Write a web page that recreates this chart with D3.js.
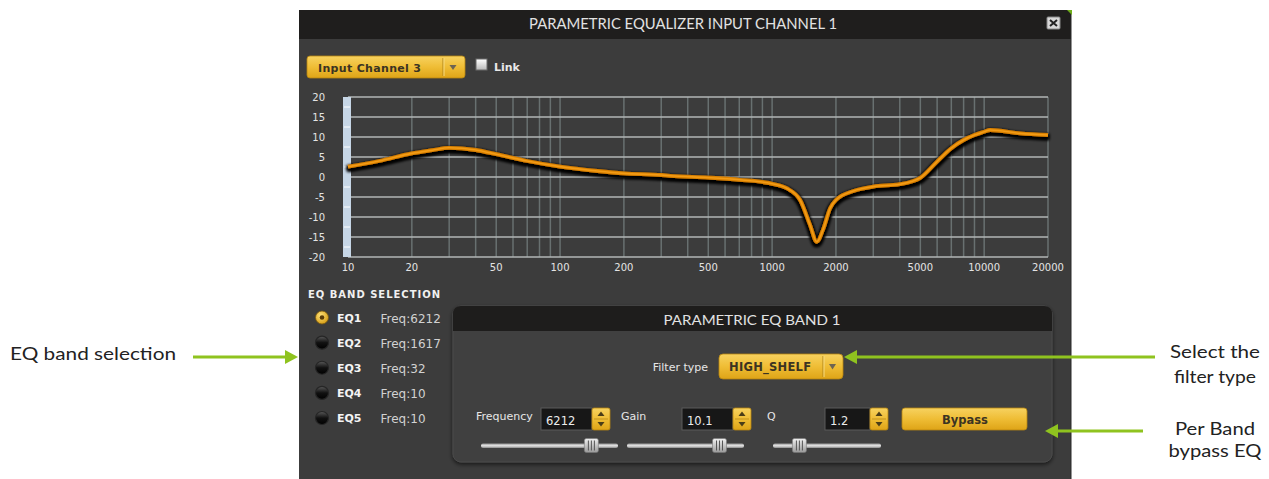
<!DOCTYPE html>
<html><head><meta charset="utf-8">
<script src="https://cdn.jsdelivr.net/npm/d3@7"></script>
<style>html,body{margin:0;padding:0;background:#fff;overflow:hidden}</style>
</head><body><svg id="c" width="1269" height="479"></svg>
<script>
// ---- data ----
const freqs = [10,14,20,25,30,40,50,70,100,150,200,300,330,500,700,1000,1170,1355,1510,1624,1748,1878,2000,2420,3000,4000,5000,5980,7000,8000,9000,10000,10670,14790,20000];
const gains = [2.6,4.0,5.9,6.7,7.3,6.75,5.7,4.0,2.6,1.5,0.9,0.5,0.3,-0.15,-0.7,-1.7,-2.8,-5.75,-12,-16.2,-12.8,-7.8,-5.75,-3.5,-2.4,-1.8,-0.2,3.8,7.2,9.25,10.5,11.3,11.75,10.9,10.5];
const yTicks = [20,15,10,5,0,-5,-10,-15,-20];
const xTickLabels = [10,20,50,100,200,500,1000,2000,5000,10000,20000];
const gridFreqs = [20,30,40,50,60,70,80,90,100,200,300,400,500,600,700,800,900,1000,2000,3000,4000,5000,6000,7000,8000,9000,10000,20000];
const bandNames = ["EQ1","EQ2","EQ3","EQ4","EQ5"];
const bandFreqs = [6212,1617,32,10,10];
const selectedBand = 0;
const bandFreq = 6212, bandGain = 10.1, bandQ = 1.2;
const filterType = "HIGH_SHELF";
const channelName = "Input Channel 3";

const svg = d3.select("#c");
const defs = svg.append("defs");
function grad(id, stops){
  const g = defs.append("linearGradient").attr("id",id).attr("x1",0).attr("y1",0).attr("x2",0).attr("y2",1);
  stops.forEach(s=>g.append("stop").attr("offset",s[0]).attr("stop-color",s[1]));
}
grad("gold",[[0,"#f7d260"],[0.5,"#efbd35"],[1,"#dea417"]]);
grad("chk",[[0,"#ffffff"],[1,"#b8b8b8"]]);
grad("track",[[0,"#9a9a9a"],[0.5,"#e6e6e6"],[1,"#8a8a8a"]]);
grad("thumb",[[0,"#f0f0f0"],[1,"#9a9a9a"]]);
grad("blk",[[0,"#5a5a5a"],[0.5,"#111"],[1,"#000"]]);
const rg = defs.append("radialGradient").attr("id","goldr").attr("cx","40%").attr("cy","35%").attr("r","70%");
rg.append("stop").attr("offset",0).attr("stop-color","#ffe27a");
rg.append("stop").attr("offset",1).attr("stop-color","#d49a10");
const f = defs.append("filter").attr("id","sh").attr("x","-10%").attr("y","-30%").attr("width","120%").attr("height","160%");
f.append("feMorphology").attr("in","SourceAlpha").attr("operator","dilate").attr("radius",0.8).attr("result","d");
f.append("feGaussianBlur").attr("in","d").attr("stdDeviation",1.4).attr("result","b");
f.append("feOffset").attr("in","b").attr("dx",0).attr("dy",2).attr("result","o");
const m = f.append("feMerge"); m.append("feMergeNode").attr("in","o"); m.append("feMergeNode").attr("in","o"); m.append("feMergeNode").attr("in","SourceGraphic");
const ps = defs.append("filter").attr("id","psh").attr("x","-5%").attr("y","-5%").attr("width","110%").attr("height","115%");
ps.append("feDropShadow").attr("dx",0).attr("dy",2).attr("stdDeviation",2).attr("flood-color","#000").attr("flood-opacity",0.6);

const FONT = "DejaVu Sans";
// ---- window ----
svg.append("rect").attr("x",299).attr("y",10).attr("width",772).attr("height",469).attr("fill","#3c3c3c");
svg.append("rect").attr("x",299).attr("y",10).attr("width",772).attr("height",29).attr("fill","#1f1e1d");
svg.append("line").attr("x1",1071).attr("x2",1071).attr("y1",10).attr("y2",479).attr("stroke","#2a2a2a").attr("stroke-width",1);
svg.append("path").attr("d","M1067,10 L1072,10 L1072,15 Z").attr("fill","#6fae1a");
svg.append("text").attr("x",529).attr("y",29).attr("font-family","Lato").attr("font-size",15)
  .attr("fill","#e2e2e2").attr("textLength",308).attr("lengthAdjust","spacingAndGlyphs").text("PARAMETRIC EQUALIZER INPUT CHANNEL 1");
// close
svg.append("rect").attr("x",1047).attr("y",17).attr("width",13).attr("height",12).attr("rx",1).attr("fill","#d8d8d8").attr("stroke","#888");
svg.append("path").attr("d","M1050,20 L1057,26 M1057,20 L1050,26").attr("stroke","#222").attr("stroke-width",2);

// ---- dropdown ----
function goldBox(par,x,y,w,h,r){ return par.append("rect").attr("x",x).attr("y",y).attr("width",w).attr("height",h).attr("rx",r)
  .attr("fill","url(#gold)").attr("stroke","#b8870f").attr("stroke-width",0.8); }
goldBox(svg,307,56,158,22,3);
svg.append("line").attr("x1",443).attr("x2",443).attr("y1",58).attr("y2",76).attr("stroke","#b08418");
svg.append("line").attr("x1",444).attr("x2",444).attr("y1",58).attr("y2",76).attr("stroke","#f8dc80");
svg.append("path").attr("d","M449.5,65 L456.5,65 L453,70 Z").attr("fill","#6d6452");
svg.append("text").attr("x",318).attr("y",72).attr("font-family",FONT).attr("font-weight","bold").attr("font-size",11)
  .attr("fill","#3b3322").attr("textLength",103).text(channelName);
svg.append("rect").attr("x",476).attr("y",59).attr("width",11).attr("height",11).attr("fill","url(#chk)").attr("stroke","#6a6a6a");
svg.append("text").attr("x",494).attr("y",71).attr("font-family",FONT).attr("font-weight","bold").attr("font-size",11)
  .attr("fill","#e8e8e8").text("Link");

// ---- chart ----
const x = d3.scaleLog().domain([10,20000]).range([348,1048]);
const y = d3.scaleLinear().domain([-20,20]).range([257,97]);
const g = svg.append("g");
g.selectAll(".vg").data(gridFreqs).join("line").attr("x1",d=>x(d)).attr("x2",d=>x(d)).attr("y1",y(20)).attr("y2",y(-20))
  .attr("stroke","#687070").attr("stroke-width",1.5);
g.selectAll(".hg").data(yTicks).join("line").attr("x1",x(10)).attr("x2",x(20000)).attr("y1",d=>y(d)).attr("y2",d=>y(d))
  .attr("stroke","#b2b6b6").attr("stroke-width",1.3);
// blue scale bar
g.append("rect").attr("x",343).attr("y",y(20)).attr("width",8).attr("height",y(-20)-y(20)).attr("fill","#c6d6e6");
g.selectAll(".bm").data(d3.range(-17.5,20,5)).join("line").attr("x1",344).attr("x2",350).attr("y1",d=>y(d)).attr("y2",d=>y(d))
  .attr("stroke","#ffffff").attr("stroke-width",1);
// labels
g.selectAll(".yl").data(yTicks).join("text").attr("x",325).attr("y",d=>y(d)+3.5).attr("text-anchor","end")
  .attr("font-family",FONT).attr("font-size",10).attr("fill","#e4e4e4").text(d=>d);
g.selectAll(".xl").data(xTickLabels).join("text").attr("x",d=>x(d)).attr("y",271).attr("text-anchor","middle")
  .attr("font-family",FONT).attr("font-size",10).attr("fill","#e4e4e4").text(d=>d);
// curve
const line = d3.line().x((d,i)=>x(freqs[i])).y(d=>y(d)).curve(d3.curveMonotoneX);
g.append("path").attr("d",line(gains)).attr("fill","none").attr("stroke","#d98000").attr("stroke-width",3.8)
  .attr("filter","url(#sh)").attr("stroke-linejoin","round");
g.append("path").attr("d",line(gains)).attr("fill","none").attr("stroke","#f29b16").attr("stroke-width",1.6);

// ---- band selection ----
svg.append("text").attr("x",308).attr("y",298).attr("font-family",FONT).attr("font-weight","bold").attr("font-size",10)
  .attr("fill","#f0f0f0").attr("textLength",132).text("EQ BAND SELECTION");
const by = d3.scalePoint().domain(bandNames).range([317.5,418]);
bandNames.forEach((n,i)=>{
  const cy = by(n);
  if(i===selectedBand){
    svg.append("circle").attr("cx",322).attr("cy",cy).attr("r",6.5).attr("fill","url(#goldr)").attr("stroke","#7a5a10").attr("stroke-width",0.8);
    svg.append("circle").attr("cx",322).attr("cy",cy).attr("r",2.3).attr("fill","#5a3c08");
  } else {
    svg.append("circle").attr("cx",322).attr("cy",cy).attr("r",6.5).attr("fill","url(#blk)").attr("stroke","#262626").attr("stroke-width",1.2);
  }
  svg.append("text").attr("x",337).attr("y",cy+4).attr("font-family",FONT).attr("font-weight","bold").attr("font-size",11)
    .attr("fill","#f4f4f4").text(n);
  svg.append("text").attr("x",380.5).attr("y",cy+5).attr("font-family",FONT).attr("font-size",12)
    .attr("fill","#d2d2d2").text("Freq:"+bandFreqs[i]);
});

// ---- band panel ----
const P = svg.append("g");
P.append("rect").attr("x",453).attr("y",306).attr("width",599).attr("height",156).attr("rx",8).attr("fill","#3f3f3f")
  .attr("stroke","#4a4a4a").attr("filter","url(#psh)");
P.append("path").attr("d","M453,331 L453,314 Q453,306 461,306 L1044,306 Q1052,306 1052,314 L1052,331 Z").attr("fill","#1e1d1c");
P.append("text").attr("x",752).attr("y",325).attr("text-anchor","middle").attr("font-family","Lato").attr("font-size",14)
  .attr("fill","#e2e2e2").attr("textLength",177).attr("lengthAdjust","spacingAndGlyphs").text("PARAMETRIC EQ BAND 1");
P.append("text").attr("x",708).attr("y",371).attr("text-anchor","end").attr("font-family",FONT).attr("font-size",11)
  .attr("fill","#e6e6e6").text("Filter type");
goldBox(P,719,354,124,25,4);
P.append("line").attr("x1",823).attr("x2",823).attr("y1",356).attr("y2",377).attr("stroke","#b08418");
P.append("line").attr("x1",824).attr("x2",824).attr("y1",356).attr("y2",377).attr("stroke","#f8dc80");
P.append("path").attr("d","M829,364 L836,364 L832.5,369.5 Z").attr("fill","#6d6452");
P.append("text").attr("x",729).attr("y",371).attr("font-family",FONT).attr("font-weight","bold").attr("font-size",11.5)
  .attr("fill","#3b3322").attr("textLength",82).text(filterType);

function field(label, lx, bx, bw, val){
  P.append("text").attr("x",lx).attr("y",420).attr("font-family",FONT).attr("font-size",11).attr("fill","#e6e6e6").text(label);
  P.append("rect").attr("x",bx).attr("y",408).attr("width",bw).attr("height",22).attr("fill","#171717").attr("stroke","#5a5a5a");
  P.append("text").attr("x",bx+5).attr("y",424.5).attr("font-family",FONT).attr("font-size",11.5).attr("fill","#ececec").text(val);
  const sx = bx+bw;
  P.append("rect").attr("x",sx).attr("y",408).attr("width",18).attr("height",22).attr("rx",2).attr("fill","url(#gold)").attr("stroke","#b8870f").attr("stroke-width",0.8);
  P.append("line").attr("x1",sx+2).attr("x2",sx+16).attr("y1",419).attr("y2",419).attr("stroke","#c29420");
  P.append("path").attr("d",`M${sx+5.5},${416} L${sx+12.5},${416} L${sx+9},${411.5} Z`).attr("fill","#4a3d18");
  P.append("path").attr("d",`M${sx+5.5},${422} L${sx+12.5},${422} L${sx+9},${426.5} Z`).attr("fill","#4a3d18");
}
field("Frequency",476,541,51,bandFreq);
field("Gain",621,682,51,bandGain);
field("Q",767,825,45,bandQ);
goldBox(P,902,408,125,22,3);
P.append("text").attr("x",965).attr("y",424).attr("text-anchor","middle").attr("font-family",FONT).attr("font-weight","bold")
  .attr("font-size",11.5).attr("fill","#3b3322").text("Bypass");

function slider(x0,x1,scale,v){
  P.append("rect").attr("x",x0).attr("y",443.5).attr("width",x1-x0).attr("height",4.5).attr("rx",2).attr("fill","url(#track)");
  const tx = scale.range([x0+8,x1-8])(v);
  P.append("rect").attr("x",tx-7).attr("y",438.5).attr("width",14).attr("height",14).attr("rx",2).attr("fill","url(#thumb)").attr("stroke","#777").attr("stroke-width",0.6);
  [-3,0,3].forEach(o=>P.append("line").attr("x1",tx+o).attr("x2",tx+o).attr("y1",440.5).attr("y2",450.5).attr("stroke","#555").attr("stroke-width",1));
}
slider(481,618,d3.scaleLog().domain([10,20000]),bandFreq);
slider(627,744,d3.scaleLinear().domain([-15,15]),bandGain);
slider(773,881,d3.scaleLinear().domain([0,6]),bandQ);

// ---- annotations ----
const GREEN = "#8fc31f";
function arrow(xFrom, xTip, yy){
  const dir = xTip > xFrom ? 1 : -1;
  svg.append("line").attr("x1",xFrom).attr("x2",xTip-dir*10).attr("y1",yy).attr("y2",yy).attr("stroke",GREEN).attr("stroke-width",3);
  svg.append("path").attr("d",`M${xTip},${yy} L${xTip-dir*13},${yy-7} L${xTip-dir*13},${yy+7} Z`).attr("fill",GREEN);
}
arrow(193,298,357);
arrow(1155,844,357);
arrow(1143,1045,431);
const ann = [
  {t:"EQ band selection", x:10, y:360, w:166, a:"start"},
  {t:"Select the", x:1215, y:358, w:90, a:"middle"},
  {t:"filter type", x:1215, y:383, w:82, a:"middle"},
  {t:"Per Band", x:1215, y:435, w:80, a:"middle"},
  {t:"bypass EQ", x:1215, y:457, w:93, a:"middle"}
];
ann.forEach(d=>svg.append("text").attr("x",d.x).attr("y",d.y).attr("text-anchor",d.a).attr("font-family","Lato")
  .attr("font-size",17).attr("fill","#222").attr("textLength",d.w).attr("lengthAdjust","spacingAndGlyphs").text(d.t));
</script></body></html>
